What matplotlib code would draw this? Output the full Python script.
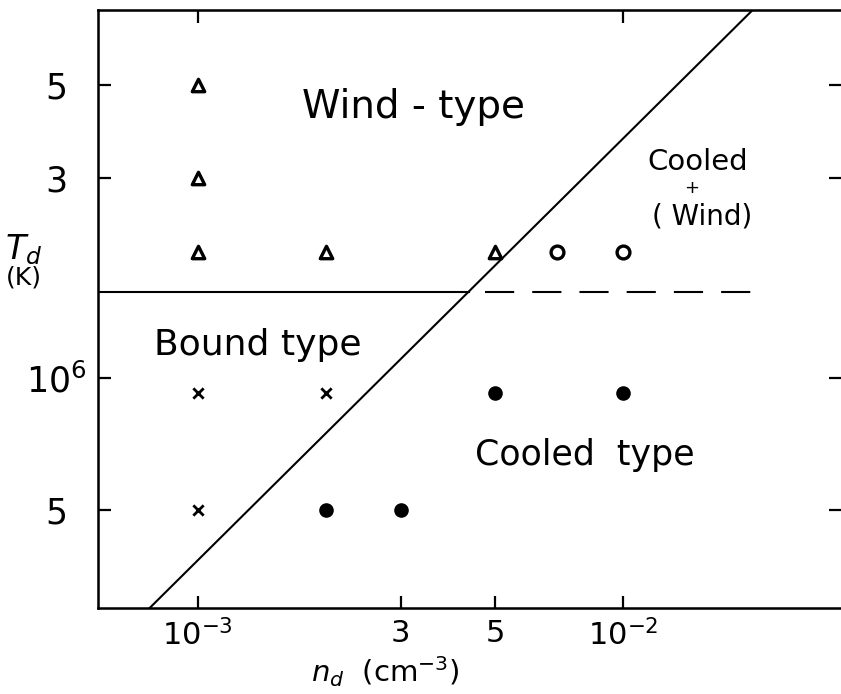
"""Hand-drawn style regime diagram: T_d vs n_d with Wind / Bound / Cooled regions."""

import matplotlib
matplotlib.use("Agg")
import matplotlib.pyplot as plt

# ---- data ----
tri_n = [1e-3, 1e-3, 1e-3, 2e-3, 5e-3]
tri_T = [5e6, 3e6, 2e6, 2e6, 2e6]
circ_n = [7e-3, 1e-2]
circ_T = [2e6, 2e6]
cross_n = [1e-3, 2e-3, 1e-3]
cross_T = [9.2e5, 9.2e5, 4.85e5]
dot_n = [5e-3, 1e-2, 2e-3, 3e-3]
dot_T = [9.2e5, 9.2e5, 4.85e5, 4.85e5]

# diagonal boundary and horizontal split
diag_n = [7.7e-4, 2.02e-2]
diag_T = [2.83e5, 7.56e6]
split_T = 1.61e6
split_solid_n = [5.82e-4, 4.35e-3]
split_dash_n = [4.75e-3, 2.19e-2]

xticks = [1e-3, 3e-3, 5e-3, 1e-2]
xticklabels = [r"$10^{-3}$", "3", "5", r"$10^{-2}$"]
top_ticks = [1e-3, 1e-2]
yticks = [4.85e5, 1e6, 3e6, 5e6]
yticklabels = ["5", r"$10^{6}$", "3", "5"]

XLIM = (5.82e-4, 3.26e-2)
YLIM = (2.83e5, 7.56e6)

plt.rcParams["font.family"] = ["DejaVu Sans"]
plt.rcParams["mathtext.fontset"] = "dejavusans"

fig = plt.figure(figsize=(8.41, 6.94), dpi=100)
ax = fig.add_axes([98 / 841, 1 - 608 / 694, 1 - 98 / 841, (608 - 10) / 694])
ax.set_xscale("log")
ax.set_yscale("log")
ax.set_xlim(*XLIM)
ax.set_ylim(*YLIM)

lw = 1.5
ax.plot(diag_n, diag_T, color="black", lw=lw)
ax.plot(split_solid_n, [split_T] * 2, color="black", lw=lw)
ax.plot(split_dash_n, [split_T] * 2, color="black", lw=lw, dashes=(21 / lw, 13 / lw))

ax.scatter(tri_n, tri_T, marker="^", s=80, facecolors="white", edgecolors="black", linewidths=2.4, zorder=3)
ax.scatter(circ_n, circ_T, marker="o", s=85, facecolors="white", edgecolors="black", linewidths=2.4, zorder=3)
ax.scatter(cross_n, cross_T, marker="x", s=55, color="black", linewidths=2.0, zorder=3)
ax.scatter(dot_n, dot_T, marker="o", s=90, color="black", zorder=3)

for s in ["left", "bottom", "top"]:
    ax.spines[s].set_linewidth(1.8)
ax.spines["right"].set_visible(False)

ax.minorticks_off()
ax.set_xticks(xticks)
ax.set_xticklabels(xticklabels)
ax.set_yticks(yticks)
ax.set_yticklabels(yticklabels)
ax.tick_params(axis="x", which="major", direction="in", length=9, width=1.6, labelsize=22, pad=8)
ax.tick_params(axis="y", which="major", direction="in", length=9, width=1.6, labelsize=25, pad=30,
               right=True)
for lab in ax.get_yticklabels():
    lab.set_horizontalalignment("center")

top = ax.twiny()
top.set_xscale("log")
top.set_xlim(*XLIM)
top.minorticks_off()
top.set_xticks(top_ticks)
top.set_xticklabels([])
top.tick_params(axis="x", direction="in", length=9, width=1.6)
top.spines["right"].set_visible(False)


def frac(px, py):
    return ((px - 98) / 743, (608 - py) / 598)


txt = dict(transform=ax.transAxes, ha="center", va="center", color="black")
ax.text(*frac(413, 107), "Wind - type", fontsize=28, **txt)
ax.text(*frac(698, 162), "Cooled", fontsize=21, **txt)
ax.text(*frac(692, 188), "+", fontsize=13, **txt)
ax.text(*frac(702, 216), "( Wind)", fontsize=20, **txt)
ax.text(*frac(258, 345), "Bound type", fontsize=26, **txt)
ax.text(*frac(585, 455), "Cooled  type", fontsize=25, **txt)

fig.text(385 / 841, 1 - 672 / 694, r"$n_d$  (cm$^{-3}$)", fontsize=21, ha="center", va="center")
fig.text(24 / 841, 1 - 250 / 694, r"$T_d$", fontsize=24, ha="center", va="center")
fig.text(24 / 841, 1 - 278 / 694, "(K)", fontsize=18, ha="center", va="center")

fig.savefig("out.png", dpi=100)
plt.close(fig)
